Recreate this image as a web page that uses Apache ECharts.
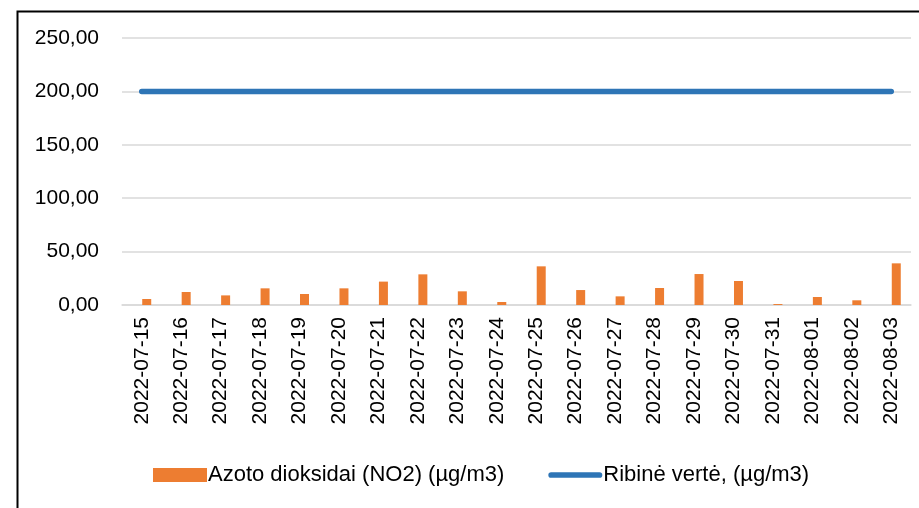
<!DOCTYPE html>
<html>
<head>
<meta charset="utf-8">
<script src="https://cdn.jsdelivr.net/npm/echarts@6/dist/echarts.min.js"></script>
<style>html,body{margin:0;padding:0;background:#fff;}#c{width:919px;height:508px;}</style>
</head>
<body>
<div id="c"></div>
<script>
const categories = ['2022-07-15','2022-07-16','2022-07-17','2022-07-18','2022-07-19','2022-07-20','2022-07-21','2022-07-22','2022-07-23','2022-07-24','2022-07-25','2022-07-26','2022-07-27','2022-07-28','2022-07-29','2022-07-30','2022-07-31','2022-08-01','2022-08-02','2022-08-03'];
const no2Values = [5.6, 12.2, 9.0, 15.6, 10.3, 15.6, 21.9, 28.7, 12.8, 2.8, 36.2, 14.0, 8.1, 15.9, 29.0, 22.5, 0.9, 7.5, 4.4, 39.0];
const limitValues = [200,200,200,200,200,200,200,200,200,200,200,200,200,200,200,200,200,200,200,200];
const yTicks = {min: 0, max: 250, interval: 50};
const no2Name = 'Azoto dioksidai (NO2) (µg/m3)';
const limitName = 'Ribinė vertė, (µg/m3)';

const font = 'Liberation Sans';
const chart = echarts.init(document.getElementById('c'));
chart.setOption({
  animation: false,
  backgroundColor: '#fff',
  graphic: [{
    type: 'rect', left: 15, top: 9,
    shape: {width: 940, height: 540},
    style: {fill: 'none', stroke: '#000', lineWidth: 2},
    silent: true
  }],
  grid: {left: 122, right: 8, top: 38, bottom: 203},
  legend: {
    left: 148, top: 459,
    itemWidth: 54, itemHeight: 14, itemGap: 44,
    symbolKeepAspect: true,
    textStyle: {fontFamily: font, fontSize: 22, color: '#000', padding: [0,0,0,-4]},
    data: [
      {name: no2Name, icon: 'rect'},
      {name: limitName, icon: 'path://M3,0L54,0A3,3 0 0 1 54,6L3,6A3,3 0 0 1 3,0Z', itemStyle: {color: '#2E75B6'}}
    ]
  },
  xAxis: {
    type: 'category',
    data: categories,
    axisLine: {lineStyle: {color: '#d9d9d9', width: 1.5}},
    axisTick: {show: false},
    axisLabel: {rotate: 90, interval: 0, margin: 12, fontFamily: font, fontSize: 21, color: '#000'}
  },
  yAxis: {
    type: 'value',
    min: yTicks.min, max: yTicks.max, interval: yTicks.interval,
    axisLine: {show: false},
    axisTick: {show: false},
    splitLine: {lineStyle: {color: '#d9d9d9', width: 1.5}},
    axisLabel: {margin: 23, fontFamily: font, fontSize: 21, color: '#000',
      formatter: v => v.toFixed(2).replace('.', ',')}
  },
  series: [
    {name: '_spacer', type: 'bar', data: categories.map(() => '-'), barWidth: 9, barGap: '11%'},
    {name: no2Name, type: 'bar', data: no2Values, barWidth: 9, barGap: '11%',
      itemStyle: {color: '#ED7D31'}},
    {name: limitName, type: 'line', data: limitValues, symbol: 'none',
      lineStyle: {color: '#2E75B6', width: 5.5, cap: 'round'}, itemStyle: {color: '#2E75B6'}}
  ]
});
</script>
</body>
</html>
